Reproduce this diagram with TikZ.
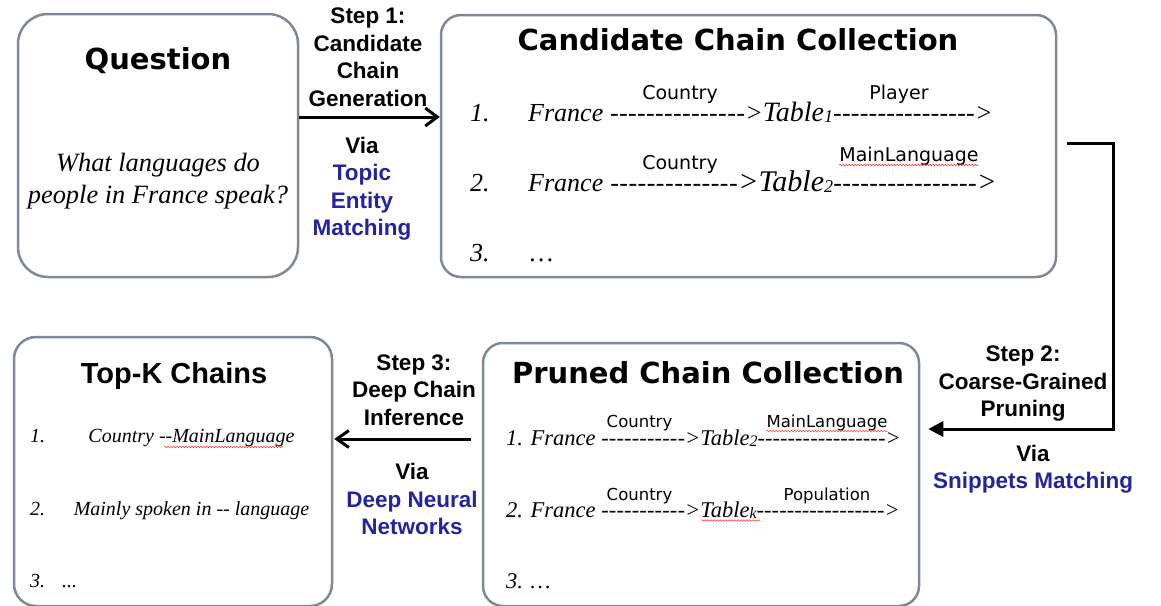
\documentclass[tikz,border=0pt]{standalone}
\usepackage{fontspec}
\setmainfont{Liberation Serif}
\newfontfamily\arial{Liberation Sans}
\newfontfamily\verd{DejaVu Sans}
\usetikzlibrary{arrows.meta,decorations.pathmorphing}
\definecolor{boxgray}{RGB}{127,137,150}
\definecolor{viablue}{RGB}{36,36,160}
\newcommand\fs[1]{\fontsize{#1}{#1}\selectfont}
\newcommand\drun[1]{\hbox to #1pt{\xleaders\hbox{-}\hfil}}
\newcommand\sbs[2]{\raisebox{-1.5pt}{\fontsize{#1}{#1}\selectfont #2}}
\begin{document}
\begin{tikzpicture}[x=1pt,y=-1pt,
  box/.style={draw=boxgray, line width=2.5pt, fill=white, inner sep=0pt},
  ttl/.style={font=\verd\bfseries\fs{29}, anchor=base, inner sep=0pt},
  ttlA/.style={font=\arial\bfseries\fs{29}, anchor=base, inner sep=0pt},
  steptxt/.style={font=\arial\bfseries\fontsize{22.5}{27.5}\selectfont, align=center, inner sep=0pt},
  lblA/.style={font=\verd\fs{19}, anchor=base, inner sep=0pt},
  lblB/.style={font=\verd\fs{16.5}, anchor=base, inner sep=0pt},
  rowA/.style={font=\itshape\fs{26}, anchor=base west, inner sep=0pt},
  rowB/.style={font=\itshape\fs{22.5}, anchor=base west, inner sep=0pt},
  rowC/.style={font=\itshape\fs{20}, anchor=base west, inner sep=0pt},
  conn/.style={draw=black, line width=3pt},
  redwave/.style={draw=red!80, line width=0.5pt, decorate, decoration={snake, amplitude=0.8pt, segment length=3pt}}]
\useasboundingbox (0,0) rectangle (1161,605);
\fill[white] (0,0) rectangle (1161,605);

% boxes
\node[box, rounded corners=30pt, minimum width=280pt, minimum height=263pt] (q) at (158,145.5) {};
\node[box, rounded corners=20pt, minimum width=615pt, minimum height=262pt] (cand) at (748.5,146) {};
\node[box, rounded corners=22pt, minimum width=318pt, minimum height=269pt] (topk) at (173,471.5) {};
\node[box, rounded corners=20pt, minimum width=436pt, minimum height=263pt] (pruned) at (701,474.5) {};

% titles
\node[ttl] (qt) at (158,69) {Question};
\node[ttl] (ct) at (738,50) {Candidate Chain Collection};
\node[ttlA] (tt) at (174,383) {Top-K Chains};
\node[ttl] (pt) at (708,383) {Pruned Chain Collection};

% question text
\node[font=\itshape\fontsize{26.4}{32}\selectfont, align=center, inner sep=0pt] (qtext) at (158,181) {What languages do\\people in France speak?};

% candidate rows
\node[lblA] (l11) at (680,99) {Country};
\node[lblA] (l12) at (899,99) {Player};
\node[rowA] (c1n) at (470,121) {1.};
\node[rowA] (c1) at (528,121) {France\ \drun{135.5}>{\fs{28}Table}\sbs{18}{1}\drun{142}>};
\node[lblA] (l21) at (680,169) {Country};
\node[lblA] (l22) at (909,161) {MainLanguage};
\node[rowA] (c2n) at (470,191) {2.};
\node[rowA] (c2) at (528,191) {France\ \drun{128.5}{\fs{30}>Table}\sbs{18}{2}\drun{144}{\fs{29}>}};
\node[rowA] (c3n) at (470,261) {3.};
\node[rowA] (c3) at (530,261) {…};

% pruned rows
\node[lblB] (pl11) at (639.5,427) {Country};
\node[lblB] (pl12) at (827,427) {MainLanguage};
\node[rowB] (p1) at (506,445) {1. France\ \drun{84}>Table\sbs{16}{2}\drun{128}>};
\node[lblB] (pl21) at (639.5,500.5) {Country};
\node[lblB] (pl22) at (827,500.5) {Population};
\node[rowB] (p2) at (506,517) {2. France\ \drun{84}>Table\sbs{16}{k}\drun{128}>};
\node[rowB] (p3) at (506,588) {3. …};

% top-k rows
\node[rowC] (t1n) at (30,442) {1.};
\node[rowC, anchor=base] (t1) at (191.5,442) {Country \hbox{-}\hbox{-}MainLanguage};
\node[rowC] (t2n) at (30,515) {2.};
\node[rowC, anchor=base] (t2) at (191.5,515) {Mainly spoken in \hbox{-}\hbox{-} language};
\node[rowC] (t3n) at (30,587) {3.};
\node[rowC] (t3) at (62,587) {...};

% spell-check underlines
\draw[redwave] ([yshift=-4pt]l22.base west) -- ([yshift=-4pt]l22.base east);
\draw[redwave] ([yshift=-4pt]pl12.base west) -- ([yshift=-4pt]pl12.base east);
\draw[redwave] (701,520.5) -- (760,520.5);
\draw[redwave] (164,447) -- (283,447);

% step texts
\node[steptxt] (s1a) at (368,57.5) {Step 1:\\Candidate\\Chain\\Generation};
\node[steptxt] (s1b) at (362,188.5) {Via\\\textcolor{viablue}{Topic}\\\textcolor{viablue}{Entity}\\\textcolor{viablue}{Matching}};
\node[steptxt] (s2a) at (1023,384) {Step 2:\\Coarse-Grained\\Pruning};
\node[steptxt] (s2b) at (1033,469) {Via\\\textcolor{viablue}{Snippets Matching}};
\node[steptxt] (s3a) at (414,390) {Step 3:\\Deep Chain\\Inference};
\node[steptxt] (s3b) at (412,499) {Via\\\textcolor{viablue}{Deep Neural}\\\textcolor{viablue}{Networks}};

% connectors
\coordinate (y1) at (0,117);
\coordinate (y2a) at (0,143);
\coordinate (c2corner) at (1113,143);
\coordinate (y2b) at (0,429);
\coordinate (y3) at (0,439);
\draw[conn, -{Straight Barb[length=12pt,width=18pt]}] (q.east |- y1) -- (cand.west |- y1);
\draw[conn, shorten <=10pt, shorten >=8pt, -{Triangle[length=15pt,width=15pt]}] (cand.east |- y2a) -- (c2corner) |- (pruned.east |- y2b);
\draw[conn, shorten <=11pt, shorten >=1pt, -{Straight Barb[length=12pt,width=17pt]}] (pruned.west |- y3) -- (topk.east |- y3);
\end{tikzpicture}
\end{document}
